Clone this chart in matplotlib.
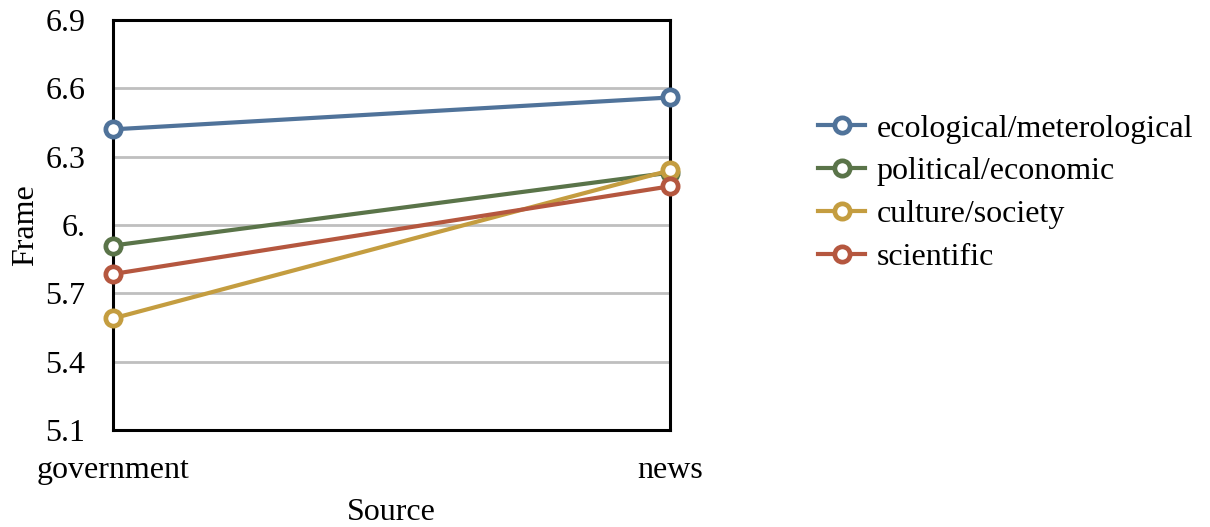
import matplotlib
matplotlib.use("Agg")
import matplotlib.pyplot as plt

SOURCES = ["government", "news"]
SERIES = ["ecological/meterological", "political/economic", "culture/society", "scientific"]
ECOLOGICAL = [6.42, 6.56]
POLITICAL = [5.91, 6.23]
CULTURE = [5.59, 6.24]
SCIENTIFIC = [5.785, 6.17]
Y_TICKS = [5.1, 5.4, 5.7, 6.0, 6.3, 6.6, 6.9]
Y_LABELS = ["5.1", "5.4", "5.7", "6.", "6.3", "6.6", "6.9"]

COLORS = ["#50739a", "#5a7449", "#c49d40", "#b5573f"]

plt.rcParams["font.family"] = ["Liberation Serif", "DejaVu Serif"]

fig = plt.figure(figsize=(12.1, 5.27), dpi=100)
ax = fig.add_axes([0.0934, 0.184, 0.4603, 0.778])

x = list(range(len(SOURCES)))
for name, values, color in zip(SERIES, [ECOLOGICAL, POLITICAL, CULTURE, SCIENTIFIC], COLORS):
    ax.plot(x, values, color=color, lw=3, marker="o", markersize=11,
            markerfacecolor="white", markeredgecolor=color, markeredgewidth=3.4,
            label=name, clip_on=False, zorder=3)

ax.set_xlim(0, 1)
ax.set_ylim(5.1, 6.9)
ax.set_yticks(Y_TICKS)
ax.set_yticklabels(Y_LABELS)
ax.set_xticks(x)
ax.set_xticklabels(SOURCES)
ax.tick_params(length=0, labelsize=23)
ax.tick_params(axis="y", pad=20)
ax.tick_params(axis="x", pad=19)
ax.grid(axis="y", color="#bfbfbf", lw=2)
ax.set_axisbelow(True)
for spine in ax.spines.values():
    spine.set_linewidth(2.2)
    spine.set_color("black")
    spine.set_zorder(2)

ax.set_xlabel("Source", fontsize=23, labelpad=9)
ax.set_ylabel("Frame", fontsize=23, labelpad=4)

ax.legend(loc="center left", bbox_to_anchor=(1.266, 0.578), frameon=False,
          fontsize=23, handlelength=1.47, handletextpad=0.37, labelspacing=0.42,
          borderaxespad=0, borderpad=0)

fig.savefig("out.png", dpi=100)
